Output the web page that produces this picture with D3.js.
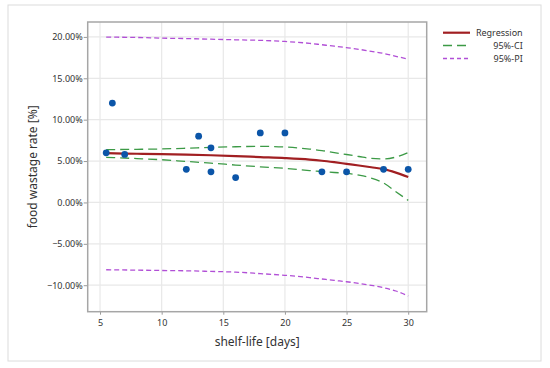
<!DOCTYPE html>
<html><head><meta charset="utf-8">
<script src="https://cdn.jsdelivr.net/npm/d3@7"></script>
<style>
html,body{margin:0;padding:0;background:#fff;}
text{font-family:"Noto Sans","Open Sans",sans-serif;}
</style></head>
<body><svg id="c" width="550" height="368"></svg>
<script>
// Observations
const obsX = [5.5, 6, 7, 12, 13, 14, 14, 16, 18, 20, 23, 25, 28, 30];
const obsY = [6.0, 12.0, 5.8, 4.0, 8.0, 6.6, 3.7, 3.0, 8.4, 8.4, 3.7, 3.7, 4.0, 4.0];
// Fitted curve and bands (read at these shelf-life values)
const fitX   = [5.5, 8, 10, 12, 14, 16, 18, 20, 22, 23, 24, 25, 26, 27, 28, 29, 30];
const regY   = [5.95, 5.88, 5.83, 5.77, 5.70, 5.60, 5.48, 5.36, 5.18, 5.04, 4.86, 4.66, 4.46, 4.25, 4.02, 3.60, 3.07];
const ciUp   = [6.38, 6.42, 6.46, 6.55, 6.66, 6.73, 6.78, 6.70, 6.45, 6.27, 6.02, 5.79, 5.55, 5.32, 5.25, 5.48, 6.02];
const ciLo   = [5.45, 5.30, 5.16, 4.95, 4.75, 4.52, 4.30, 4.12, 3.85, 3.74, 3.62, 3.52, 3.30, 2.95, 2.35, 1.30, 0.25];
const piUp   = [19.97, 19.93, 19.85, 19.80, 19.72, 19.65, 19.58, 19.45, 19.22, 19.05, 18.88, 18.70, 18.50, 18.25, 18.00, 17.65, 17.32];
const piLo   = [-8.13, -8.18, -8.22, -8.26, -8.33, -8.42, -8.60, -8.80, -9.08, -9.25, -9.42, -9.58, -9.78, -10.02, -10.30, -10.70, -11.30];
const xTicks = [5, 10, 15, 20, 25, 30];
const yTicks = [-10, -5, 0, 5, 10, 15, 20];
const legendLabels = ["Regression", "95%-CI", "95%-PI"];

const svg = d3.select("#c");
const L = 87.7, R = 426.7, T = 22, B = 311.7;
const x = d3.scaleLinear().domain([4.0, 31.5]).range([L, R]);
const y = d3.scaleLinear().domain([-13.2, 21.8]).range([B, T]);

svg.append("rect").attr("x", 8).attr("y", 5).attr("width", 533).attr("height", 356)
  .attr("fill", "#fff").attr("stroke", "#dcdcdc").attr("stroke-width", 1);

// gridlines
svg.append("g").selectAll("line").data(xTicks).join("line")
  .attr("x1", d => x(d)).attr("x2", d => x(d)).attr("y1", T).attr("y2", B)
  .attr("stroke", "#e8e8e8").attr("stroke-width", 1.2);
svg.append("g").selectAll("line").data(yTicks).join("line")
  .attr("y1", d => y(d)).attr("y2", d => y(d)).attr("x1", L).attr("x2", R)
  .attr("stroke", "#e8e8e8").attr("stroke-width", 1.2);

// axes
const xAxis = d3.axisBottom(x).tickValues(xTicks).tickSize(3).tickPadding(5).tickFormat(d3.format("d"));
const yAxis = d3.axisLeft(y).tickValues(yTicks).tickSize(4).tickPadding(1).tickFormat(d => d3.format(".2f")(d) + "%");
const gx = svg.append("g").attr("transform", `translate(0,${B})`).call(xAxis);
const gy = svg.append("g").attr("transform", `translate(${L},0)`).call(yAxis);
[gx, gy].forEach(g => {
  g.select(".domain").remove();
  g.selectAll(".tick line").attr("stroke", "#9a9a9a");
  g.selectAll(".tick text").attr("fill", "#333").attr("font-size", 9)
    .attr("font-family", "'Noto Sans','Open Sans',sans-serif");
});
gy.selectAll(".tick text").text(d => (d < 0 ? "\u2212" + d3.format(".2f")(-d) : d3.format(".2f")(d)) + "%");

// plot border
svg.append("rect").attr("x", L).attr("y", T).attr("width", R - L).attr("height", B - T)
  .attr("fill", "none").attr("stroke", "#a6a6a6").attr("stroke-width", 1.5);

const line = arr => d3.line().x((d, i) => x(fitX[i])).y(d => y(d)).curve(d3.curveMonotoneX)(arr);

const PI_COL = "#b14fd6", CI_COL = "#3c9a46", REG_COL = "#a11f22", PT_COL = "#0b55a8";
svg.append("path").attr("d", line(piUp)).attr("fill", "none").attr("stroke", PI_COL).attr("stroke-width", 1.3).attr("stroke-dasharray", "5,3");
svg.append("path").attr("d", line(piLo)).attr("fill", "none").attr("stroke", PI_COL).attr("stroke-width", 1.3).attr("stroke-dasharray", "5,3");
svg.append("path").attr("d", line(ciUp)).attr("fill", "none").attr("stroke", CI_COL).attr("stroke-width", 1.3).attr("stroke-dasharray", "9,5");
svg.append("path").attr("d", line(ciLo)).attr("fill", "none").attr("stroke", CI_COL).attr("stroke-width", 1.3).attr("stroke-dasharray", "9,5");
svg.append("path").attr("d", line(regY)).attr("fill", "none").attr("stroke", REG_COL).attr("stroke-width", 2.2);

svg.append("g").selectAll("circle").data(obsX).join("circle")
  .attr("cx", d => x(d)).attr("cy", (d, i) => y(obsY[i])).attr("r", 3.4).attr("fill", PT_COL);

// axis titles
svg.append("text").attr("x", (L + R) / 2).attr("y", 346).attr("text-anchor", "middle")
  .attr("font-size", 12).attr("fill", "#333").text("shelf-life [days]");
svg.append("text").attr("transform", `translate(37,${(T + B) / 2}) rotate(-90)`).attr("text-anchor", "middle")
  .attr("font-size", 12).attr("fill", "#333").text("food wastage rate [%]");

// legend
const legStyles = [
  {c: REG_COL, w: 2.2, da: null},
  {c: CI_COL, w: 1.3, da: "9,5"},
  {c: PI_COL, w: 1.3, da: "4,3"}
];
const legY = [32.7, 45.5, 58.5];
legendLabels.forEach((lab, i) => {
  const s = legStyles[i];
  const ln = svg.append("line").attr("x1", 443).attr("x2", 470).attr("y1", legY[i]).attr("y2", legY[i])
    .attr("stroke", s.c).attr("stroke-width", s.w);
  if (s.da) ln.attr("stroke-dasharray", s.da);
  svg.append("text").attr("x", 522.7).attr("y", legY[i]).attr("dy", "0.35em").attr("text-anchor", "end")
    .attr("font-size", 9).attr("fill", "#333").text(lab);
});
</script></body></html>
